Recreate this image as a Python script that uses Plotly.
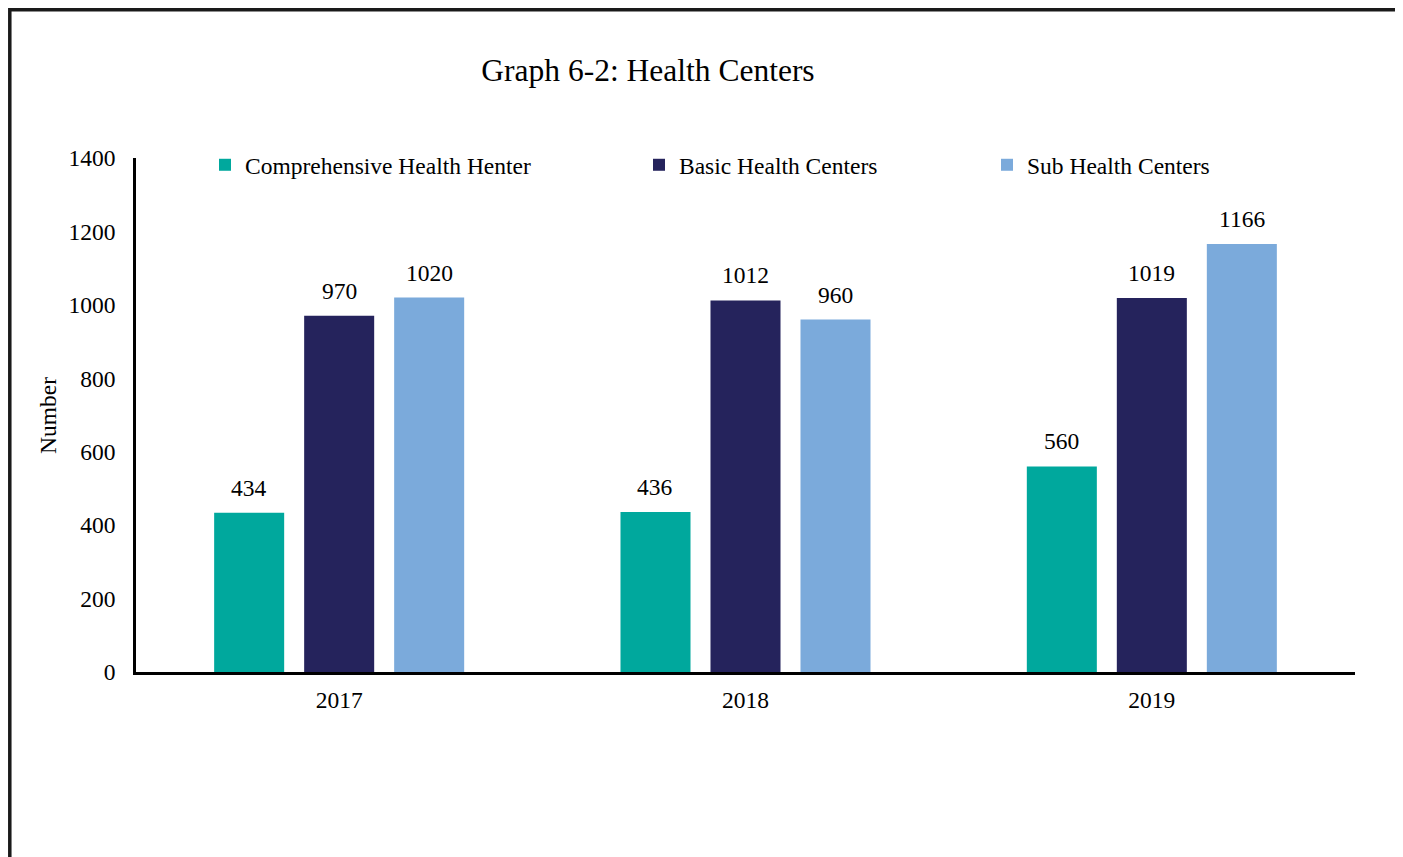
import plotly.graph_objects as go

years = ["2017", "2018", "2019"]
series_names = ["Comprehensive Health Henter", "Basic Health Centers", "Sub Health Centers"]
comprehensive = [434, 436, 560]
basic = [970, 1012, 1019]
sub = [1020, 960, 1166]
colors = ["#00A89D", "#25235C", "#7BAADB"]

FONT = "Liberation Serif, Times New Roman, serif"
FS = 23.5
W, H = 1403, 857
OFF = 8  # page offset of the plot in the browser
ML, MR, MT, MB = 136 - OFF, 48 + OFF, 158 - OFF, 185 + OFF
PW = W - ML - MR
PH = H - MT - MB
BARGAP = 0.3355
BARGROUPGAP = 0.222


def px_x(px):
    return (px - OFF - ML) / PW


def px_y(py):
    return (H - MB - (py - OFF)) / PH


fig = go.Figure()
values = [comprehensive, basic, sub]
legend_ids = ["legend", "legend2", "legend3"]
for name, vals, col, lg in zip(series_names, values, colors, legend_ids):
    fig.add_trace(go.Bar(x=years, y=vals, name=name, marker=dict(color=col, line=dict(width=0)),
                         legend=lg, showlegend=True, hoverinfo="x+y+name"))

# value labels above bars (x given as category index)
cat_px = PW / len(years)
slot = cat_px * (1 - BARGAP) / len(values)
for i, vals in enumerate(values):
    for ci, v in enumerate(vals):
        fig.add_annotation(x=ci, y=v, text=str(v), showarrow=False, xref="x", yref="y",
                           xshift=(i - 1) * slot, yshift=25, yanchor="middle",
                           font=dict(family=FONT, size=FS, color="black"))

# y axis title
fig.add_annotation(x=px_x(48), y=0.5, xref="paper", yref="paper", text="Number",
                   textangle=-90, showarrow=False, xanchor="center", yanchor="middle",
                   font=dict(family=FONT, size=FS, color="black"))

# outer frame
fig.add_shape(type="rect", xref="paper", yref="paper",
              x0=px_x(9.8), x1=px_x(1397.5),
              y0=px_y(9.8), y1=px_y(900),
              line=dict(color="#1a1a1a", width=3.5), fillcolor="rgba(0,0,0,0)", layer="above")

leg_y = px_y(165)
legend_common = dict(orientation="h", yanchor="middle", y=leg_y, xanchor="left",
                     font=dict(family=FONT, size=FS, color="black"),
                     bgcolor="rgba(0,0,0,0)", borderwidth=0)
leg_x = [205, 639, 987]

fig.update_layout(
    width=W, height=H,
    margin=dict(l=ML, r=MR, t=MT, b=MB, autoexpand=False),
    paper_bgcolor="white", plot_bgcolor="white",
    showlegend=True,
    barmode="group", bargap=BARGAP, bargroupgap=BARGROUPGAP,
    title=dict(text="Graph 6-2: Health Centers", x=(648 - OFF) / W, xref="container", xanchor="center",
               y=1 - (70 - OFF) / H, yref="container", yanchor="middle",
               font=dict(family=FONT, size=31.5, color="black")),
    font=dict(family=FONT, size=FS, color="black"),
    legend=dict(x=px_x(leg_x[0]), **legend_common),
    legend2=dict(x=px_x(leg_x[1]), **legend_common),
    legend3=dict(x=px_x(leg_x[2]), **legend_common),
    xaxis=dict(type="category", range=[-0.5, len(years) - 0.5], autorange=False,
               showline=True, linecolor="black", linewidth=2.5, showgrid=False,
               ticks="", tickfont=dict(family=FONT, size=FS, color="black"), ticklabelstandoff=5,
               zeroline=False),
    yaxis=dict(range=[0, 1400], autorange=False, dtick=200, showline=True, linecolor="black",
               linewidth=2.5, showgrid=False, ticks="", zeroline=False,
               tickfont=dict(family=FONT, size=FS, color="black"), ticklabelstandoff=13),
)

fig.write_html("out.html")
